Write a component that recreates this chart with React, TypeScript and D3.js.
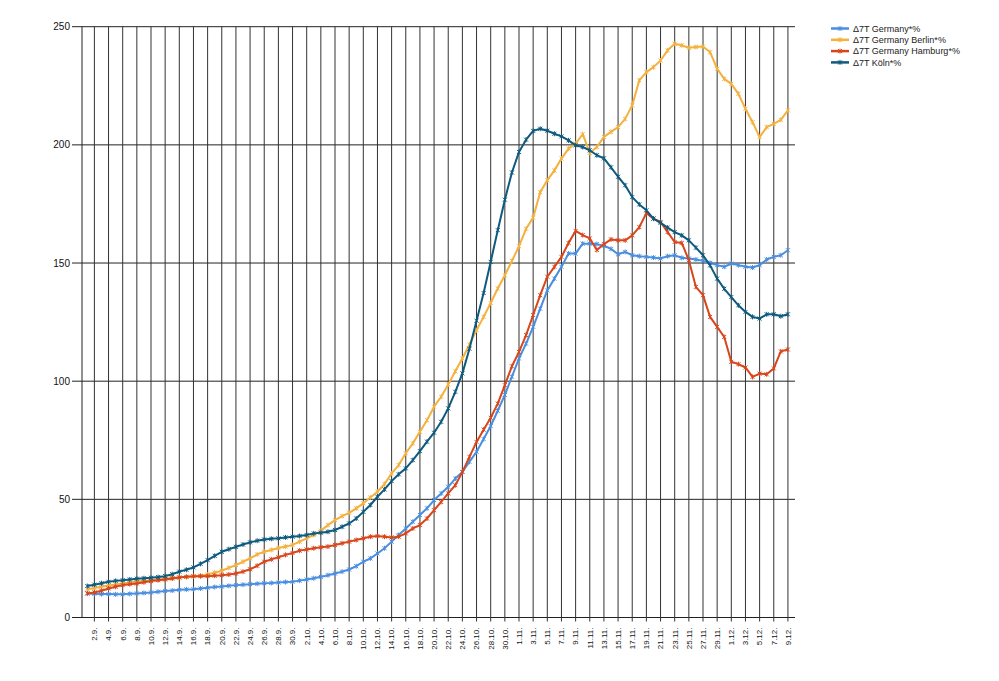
import * as d3 from "d3";
import { useEffect, useRef } from "react";

// days 1.9. - 9.12.
const startDay = new Date(2020, 8, 1);
const endDay = new Date(2020, 11, 10);

const seriesNames = [
  "Δ7T Germany*%",
  "Δ7T Germany Berlin*%",
  "Δ7T Germany Hamburg*%",
  "Δ7T Köln*%",
];

const germany = [
  10.2, 10.0, 9.9, 9.9, 9.8, 9.8, 10.0, 10.2, 10.4, 10.6,
  10.9, 11.2, 11.4, 11.7, 11.9, 12.0, 12.3, 12.6, 12.9, 13.1,
  13.4, 13.7, 13.9, 14.1, 14.3, 14.5, 14.6, 14.8, 15.0, 15.1,
  15.6, 16.1, 16.6, 17.2, 17.9, 18.6, 19.4, 20.3, 21.7, 23.6,
  25.0, 27.1, 29.3, 32.1, 34.9, 37.7, 40.5, 43.4, 46.2, 49.7,
  52.5, 55.3, 58.8, 61.6, 65.9, 70.1, 75.5, 81.0, 87.5, 94.2,
  101.9, 109.6, 115.9, 123.0, 130.7, 138.4, 143.4, 148.4, 154.0, 154.0,
  158.2, 158.2, 158.0, 157.3, 156.0, 153.7, 154.7, 153.3, 152.9, 152.6,
  152.3, 151.9, 152.9, 153.3, 152.2, 151.9, 151.5, 150.9, 150.1, 149.1,
  148.4, 149.8, 149.1, 148.4, 148.1, 149.1, 151.5, 152.6, 153.3, 155.4,
];

const berlin = [
  12.0, 12.5, 13.0, 13.5, 14.0, 14.4, 14.8, 15.2, 15.5, 15.8,
  16.1, 16.4, 16.7, 17.0, 17.2, 17.4, 17.7, 18.2, 19.0, 19.8,
  21.0, 22.2, 23.6, 25.0, 26.7, 27.8, 28.6, 29.4, 30.0, 30.7,
  32.1, 33.5, 34.9, 36.7, 39.1, 41.2, 42.9, 44.3, 46.2, 48.3,
  50.8, 53.2, 56.5, 61.0, 64.5, 69.5, 73.7, 78.6, 83.5, 89.2,
  93.4, 98.6, 104.2, 109.6, 115.5, 121.6, 127.2, 133.1, 139.2, 144.8,
  150.9, 157.1, 164.5, 169.2, 180.0, 185.0, 189.2, 194.2, 198.4, 200.5,
  204.5, 196.6, 199.1, 203.4, 205.5, 207.5, 211.0, 216.7, 227.3, 230.8,
  232.9, 235.7, 240.0, 242.8, 242.1, 241.1, 241.4, 241.6, 239.2, 232.2,
  227.9, 225.8, 221.6, 215.3, 209.6, 203.3, 207.5, 208.9, 210.6, 214.6,
];

const hamburg = [
  10.2, 10.6, 11.3, 12.3, 13.0, 13.7, 14.1, 14.4, 14.9, 15.4,
  15.8, 16.1, 16.5, 16.9, 17.2, 17.5, 17.5, 17.5, 17.7, 17.9,
  18.2, 18.6, 19.4, 20.4, 21.9, 23.6, 24.6, 25.5, 26.5, 27.3,
  28.3, 28.8, 29.3, 29.7, 30.0, 30.7, 31.4, 32.1, 32.8, 33.5,
  34.2, 34.5, 34.2, 33.9, 34.2, 35.6, 37.7, 39.1, 41.9, 45.4,
  48.9, 52.5, 56.0, 61.6, 68.0, 74.3, 79.5, 84.5, 90.5, 98.3,
  106.3, 112.4, 119.5, 128.0, 136.4, 144.2, 148.4, 152.6, 158.5, 163.6,
  161.8, 160.4, 155.5, 158.0, 160.0, 159.6, 159.6, 161.7, 165.2, 171.1,
  168.8, 167.4, 163.1, 158.9, 158.5, 151.2, 139.9, 136.4, 127.2, 123.0,
  118.7, 108.2, 107.2, 105.8, 101.8, 103.2, 102.9, 105.4, 112.6, 113.4,
];

const koeln = [
  13.3, 13.9, 14.5, 15.1, 15.5, 15.8, 16.1, 16.4, 16.6, 16.8,
  17.1, 17.5, 18.3, 19.4, 20.2, 21.2, 22.7, 24.3, 26.1, 27.8,
  28.9, 29.9, 30.9, 31.8, 32.5, 33.0, 33.3, 33.5, 33.9, 34.2,
  34.5, 34.9, 35.6, 35.9, 36.3, 37.0, 38.4, 39.8, 41.9, 44.7,
  47.6, 51.1, 54.2, 57.7, 60.6, 63.1, 66.6, 70.4, 74.4, 78.2,
  82.8, 88.5, 95.5, 103.3, 113.7, 125.6, 137.3, 150.5, 163.9, 176.8,
  188.3, 197.0, 202.2, 205.9, 206.8, 206.0, 204.7, 203.6, 201.9, 199.8,
  199.1, 197.7, 195.6, 194.3, 190.5, 186.5, 182.9, 177.9, 174.8, 172.3,
  168.8, 167.0, 165.0, 163.1, 161.7, 159.6, 156.5, 153.3, 149.0, 143.4,
  139.1, 135.6, 132.1, 129.3, 127.2, 126.5, 128.3, 128.3, 127.5, 128.3,
];

const yTicks = [0, 50, 100, 150, 200, 250];

const colors = ["#4a8ee0", "#f4b13e", "#d8461b", "#0e5a7e"];

const App = () => {
  const svgRef = useRef<SVGSVGElement>(null);
  useEffect(() => {
    if (!svgRef.current) return;
    const svg = d3.select(svgRef.current);
    svg.selectAll("*").remove();

    const days = d3.timeDay.range(startDay, endDay);
    const fmt = d3.timeFormat("%-d.%-m.");
    const labels = days.map((d) => fmt(d));
    const allSeries = [germany, berlin, hamburg, koeln];

    const x = d3.scaleLinear().domain([-0.75, 100]).range([82, 795]);
    const y = d3.scaleLinear().domain([0, 250]).range([617.5, 26.7]);

    const xTicks = d3.range(1, labels.length, 2);

    // horizontal grid
    svg
      .append("g")
      .selectAll()
      .data(yTicks)
      .join("line")
      .attr("x1", 72)
      .attr("x2", 795)
      .attr("y1", (d) => y(d))
      .attr("y2", (d) => y(d))
      .attr("stroke", "#222")
      .attr("stroke-width", 1);

    // vertical grid
    svg
      .append("g")
      .selectAll()
      .data(xTicks)
      .join("line")
      .attr("x1", (d) => x(d))
      .attr("x2", (d) => x(d))
      .attr("y1", y(250))
      .attr("y2", y(0) + 4)
      .attr("stroke", "#333")
      .attr("stroke-width", 1);

    // y axis line
    svg
      .append("line")
      .attr("x1", 82)
      .attr("x2", 82)
      .attr("y1", y(250))
      .attr("y2", y(0))
      .attr("stroke", "#222");

    // y labels
    svg
      .append("g")
      .attr("font-family", "Liberation Sans, Arial, sans-serif")
      .attr("font-size", 10)
      .attr("fill", "#111")
      .attr("text-anchor", "end")
      .selectAll()
      .data(yTicks)
      .join("text")
      .attr("x", 70)
      .attr("y", (d) => y(d))
      .attr("dy", "0.35em")
      .text((d) => d);

    // x labels
    svg
      .append("g")
      .attr("font-family", "Liberation Sans, Arial, sans-serif")
      .attr("font-size", 8)
      .attr("fill", "#111")
      .attr("text-anchor", "end")
      .selectAll()
      .data(xTicks)
      .join("text")
      .attr("transform", (d) => `translate(${x(d)},${y(0) + 10}) rotate(-90)`)
      .attr("dy", "0.35em")
      .text((d) => labels[d]);

    const line = d3
      .line<number>()
      .x((_, i) => x(i))
      .y((d) => y(d));

    const marker = "M-2,-2L2,2M-2,2L2,-2M0,-2.5L0,2.5";

    allSeries.forEach((s, k) => {
      const g = svg.append("g");
      g.append("path")
        .attr("d", line(s))
        .attr("fill", "none")
        .attr("stroke", colors[k])
        .attr("stroke-width", 2)
        .attr("stroke-linejoin", "round");
      g.selectAll()
        .data(s)
        .join("path")
        .attr("d", marker)
        .attr("transform", (d, i) => `translate(${x(i)},${y(d)})`)
        .attr("fill", "none")
        .attr("stroke", colors[k])
        .attr("stroke-width", 1);
    });

    // legend
    const legend = svg
      .append("g")
      .attr("font-family", "Liberation Sans, Arial, sans-serif")
      .attr("font-size", 9)
      .selectAll()
      .data(seriesNames)
      .join("g")
      .attr("transform", (_, i) => `translate(831,${28.5 + i * 11.3})`);
    legend
      .append("line")
      .attr("x1", 0)
      .attr("x2", 18)
      .attr("stroke", (_, i) => colors[i])
      .attr("stroke-width", 2.5);
    legend
      .append("path")
      .attr("d", marker)
      .attr("transform", "translate(9,0)")
      .attr("stroke", (_, i) => colors[i])
      .attr("stroke-width", 1);
    legend
      .append("text")
      .attr("x", 22)
      .attr("dy", "0.35em")
      .attr("fill", "#222")
      .text((d) => d);
  }, []);
  return (
    <svg
      ref={svgRef}
      width={999}
      height={681}
      style={{ position: "absolute", left: 0, top: 0, background: "#fff" }}
    ></svg>
  );
};

export default App;
